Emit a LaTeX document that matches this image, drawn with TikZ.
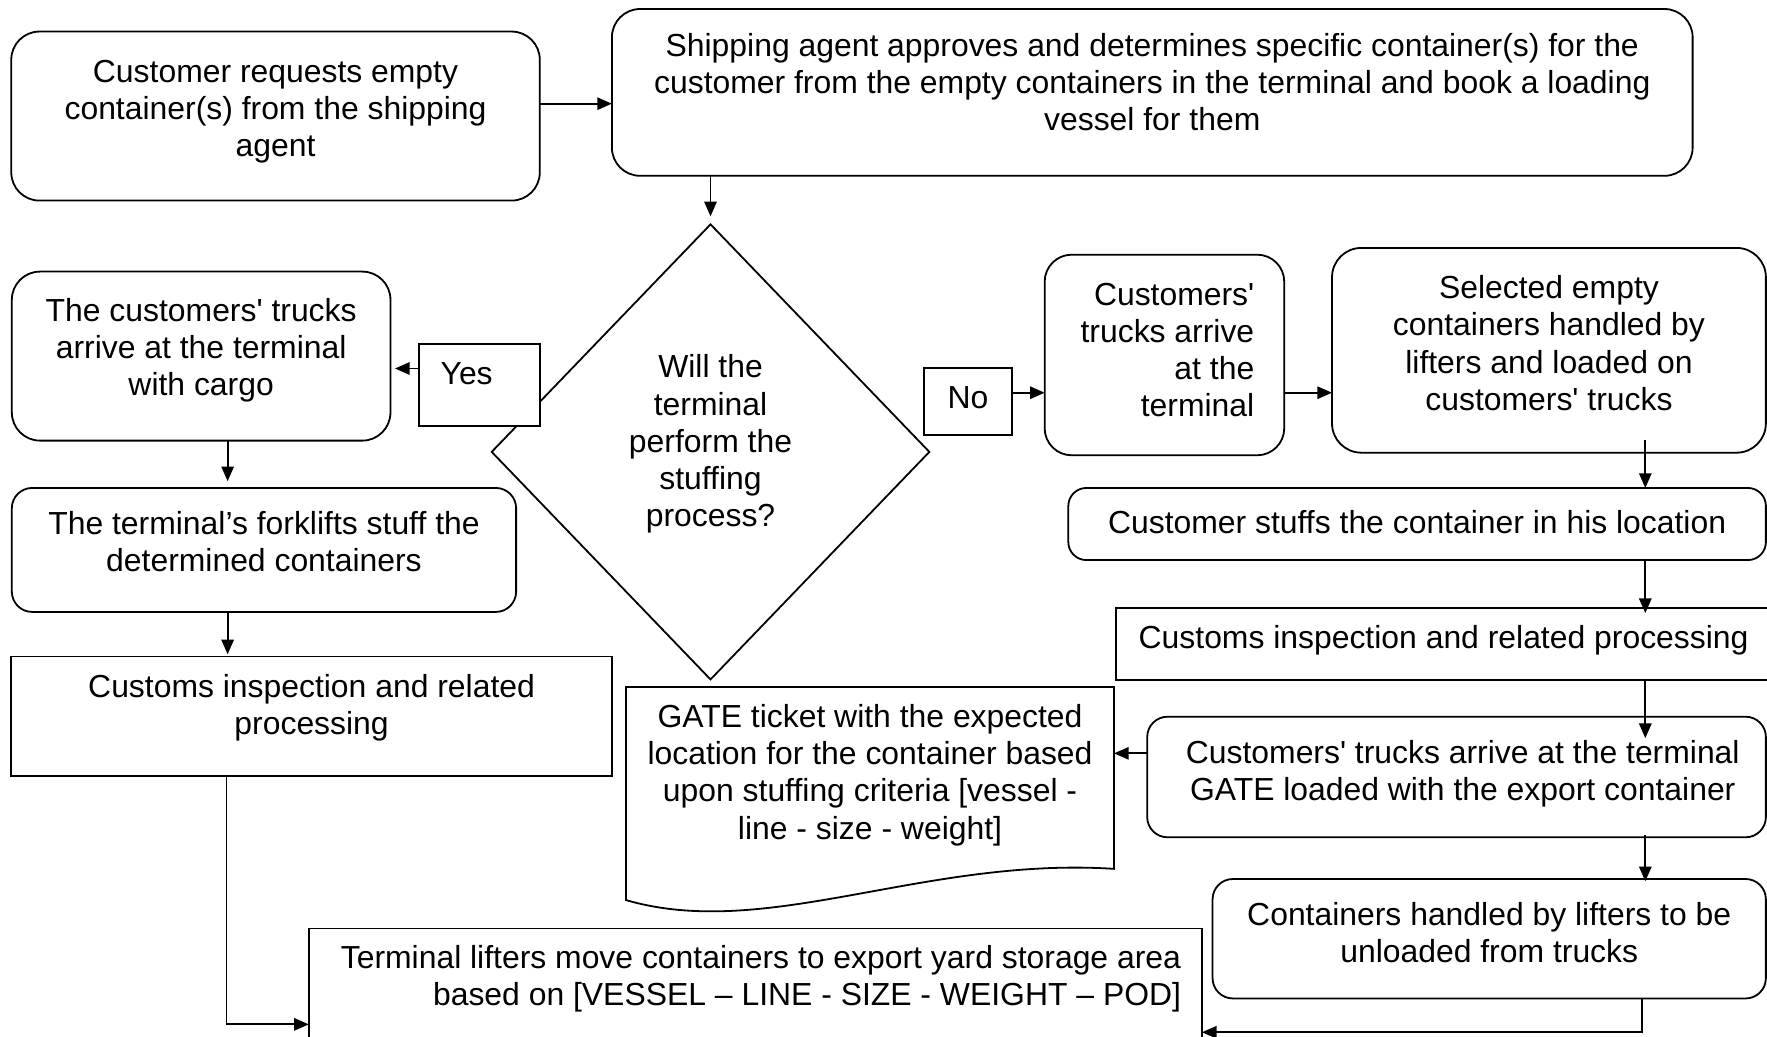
\documentclass[tikz,border=0pt]{standalone}
\usepackage{fontspec}
\setmainfont{Liberation Sans}[Ligatures=TeXOff]
\usetikzlibrary{arrows.meta,shapes.geometric,calc}
\newdimen\pu \pu=0.5pt
\newcommand\tb[5]{\parbox[c][#2\pu][t]{#1\pu}{#4\rule{0pt}{#3\pu}#5}}
\begin{document}
\begin{tikzpicture}[x=0.5pt,y=-0.5pt,
  every node/.style={font=\fontsize{14.15pt}{16.5pt}\selectfont},
  box/.style={draw, line width=0.8pt, fill=white, inner sep=0pt, outer sep=0pt},
  rbox/.style={box, rounded corners=#1},
  arr/.style={line width=0.8pt, -{Triangle[length=6.5pt,width=5.5pt]}}]
\useasboundingbox (0,0) rectangle (1568,920);
\clip (0,0) rectangle (1568,920);
% coordinates used by connectors
\coordinate (hx) at (1460,0);
\coordinate (lx) at (202,0);
% top row
\node[rbox=12.5pt] (A) at (244.5,103) {\tb{469}{150}{45}{\centering}{Customer requests empty\\container(s) from the shipping\\agent}};
\node[rbox=12.5pt] (B) at (1022.5,82) {\tb{959}{148}{42}{\centering}{Shipping agent approves and determines specific container(s) for the\\customer from the empty containers in the terminal and book a loading\\vessel for them}};
% decision
\node[draw, diamond, line width=0.8pt, minimum width=194.5pt, minimum height=202.25pt, inner sep=0pt] (Q) at (630.5,401) {\parbox{150\pu}{\centering Will the\\terminal\\perform the\\stuffing\\process?\par\vspace{7pt}}};
\node[box] (Y) at (425.5,341.5) {\tb{107}{73}{36}{\raggedright\hspace*{19\pu}}{Yes}};
\node[box] (N) at (859,356.3) {\tb{78}{59.3}{35.5}{\centering}{No}};
% left column
\node[rbox=12.5pt] (C) at (178.5,316) {\tb{336}{150}{44}{\centering}{The customers' trucks\\arrive at the terminal\\with cargo}};
\node[rbox=9pt] (D) at (234.25,488) {\tb{447.5}{110}{41}{\centering}{The terminal’s forklifts stuff the\\determined containers}};
\node[box] (E) at (276.5,635.6) {\tb{533}{106}{36}{\centering}{Customs inspection and related\\processing}};
\node[box] (F) at (670.3,882) {\tb{792.6}{116}{35}{\raggedleft\rightskip=18.6\pu\relax}{Terminal lifters move containers to export yard storage area\\based on [VESSEL – LINE - SIZE - WEIGHT – POD]}};
% right column
\node[rbox=12pt] (G) at (1033.3,315) {\tb{212.6}{178}{45}{\raggedleft\rightskip=26.6\pu\relax}{Customers'\\trucks arrive\\at the\\terminal}};
\node[rbox=13pt] (H) at (1374.5,310.85) {\tb{385}{181.7}{45}{\centering}{Selected empty\\containers handled by\\lifters and loaded on\\customers' trucks}};
\node[rbox=8pt] (I) at (1257.5,465) {\tb{619}{64}{40}{\centering}{Customer stuffs the container in his location}};
\node[box] (J) at (1281,571.5) {\tb{582}{63.8}{36}{\centering}{Customs inspection and related processing}};
\node[rbox=9pt] (K) at (1292.5,689.5) {\tb{549}{107}{41.5}{\centering\leftskip=11\pu plus 1fil\relax}{Customers' trucks arrive at the terminal\\GATE loaded with the export container}};
\node[rbox=9pt] (L) at (1321.5,833) {\tb{491}{106}{41}{\centering}{Containers handled by lifters to be\\unloaded from trucks}};
% gate ticket (document shape)
\node[inner sep=0pt, outer sep=0pt] (T) at (772.05,690.3) {\tb{433.1}{161.4}{36}{\centering}{GATE ticket with the expected\\location for the container based\\upon stuffing criteria [vessel -\\line - size - weight]}};
\draw[line width=0.8pt] (T.south east) .. controls (820,760) and (680,835) .. (555.5,798.7) -- (T.north west) -- (T.north east) -- cycle;
% connectors
\draw[arr] (A.east |- 0,92) -- (B.west |- 0,92);
\draw[arr, shorten >=3pt] (B.south -| Q.north) -- (Q.north);
\draw[arr, shorten >=2pt] (Y.west |- 0,327) -- (C.east |- 0,327);
\draw[arr, shorten >=3pt] (C.south -| lx) -- (D.north -| lx);
\draw[arr, shorten >=1pt] (D.south -| lx) -- (E.north -| lx);
\draw[arr] (E.south -| 201,0) |- (F.west |- 0,909);
\draw[arr] (N.east |- 0,348.5) -- (G.west |- 0,348.5);
\draw[arr] (G.east |- 0,348.5) -- (H.west |- 0,348.5);
\draw[arr] ([yshift=5.5pt]H.south -| hx) -- (I.north -| hx);
\draw[arr] (I.south -| hx) -- ([yshift=-2.2pt]J.north -| hx);
\draw[arr] (J.south -| hx) -- ([yshift=-9.5pt]K.north -| hx);
\draw[arr] (K.west |- 0,668.5) -- (T.east |- 0,668.5);
\draw[arr] ([yshift=1pt]K.south -| hx) -- ([yshift=-1pt]L.north -| hx);
\draw[arr] (L.south -| 1410,0) -| (1457,916) -- (F.east |- 0,916);
\end{tikzpicture}
\end{document}
